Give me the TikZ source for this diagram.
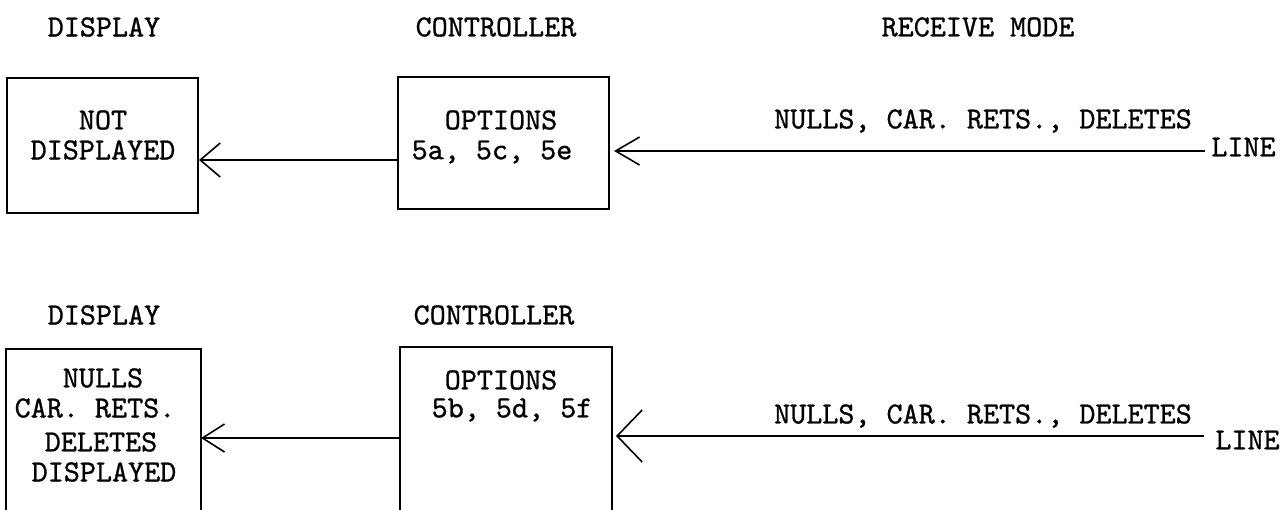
\documentclass[tikz,border=0pt]{standalone}
\usepackage{fontspec}
\newfontfamily\tw{lmmono10-regular.otf}[RawFeature={embolden=0.9}]
\usetikzlibrary{arrows.meta}
\begin{document}
\begin{tikzpicture}[x=0.5pt,y=-0.5pt,
  txt/.style={font=\tw\fontsize{15.3}{18}\selectfont, inner sep=0pt, anchor=center},
  boxshape/.style={rectangle, inner sep=0pt, line width=1pt},
  conn/.style={line width=0.8pt},
]
\useasboundingbox (0,0) rectangle (1283,509);

% ---------------- top row ----------------
\node[txt] (t1) at (104,27) {DISPLAY};
\node[txt] (t2) at (496,27) {CONTROLLER};
\node[txt] (t3) at (978,27) {RECEIVE MODE};

\node[boxshape, draw, minimum width=95.5pt, minimum height=67.5pt] (d1) at (102.5,145.5) {};
\node[txt] (d1a) at (103,120) {NOT};
\node[txt] (d1b) at (103,150) {DISPLAYED};

\node[boxshape, draw, minimum width=105.5pt, minimum height=66pt] (c1) at (503.5,143) {};
\node[txt] (c1a) at (501,120) {OPTIONS};
\node[txt] (c1b) at (492,152) {5a, 5c, 5e};

\coordinate (y1) at (0,160);
\draw[conn, -{Straight Barb[length=10pt,width=17pt]}] (c1.west |- y1) -- (d1.east |- y1);

\node[txt] (n1) at (983,121) {NULLS, CAR. RETS., DELETES};
\node[txt, anchor=west] (line1) at (1211,147) {LINE};
\coordinate (l1) at (1205,151);
\draw[conn, shorten >=2pt, -{Straight Barb[length=12pt,width=14pt]}] (l1) -- (l1 -| c1.east);

% ---------------- bottom row ----------------
\node[txt] (b1) at (104,315) {DISPLAY};
\node[txt] (b2) at (494,315) {CONTROLLER};

\node[boxshape, minimum width=96.5pt, minimum height=82.5pt] (d2) at (103.5,432.5) {};
\draw[line width=1pt] (d2.south west) -- (d2.north west) -- (d2.north east) -- (d2.south east);
\node[txt] (d2a) at (103,378) {NULLS};
\node[txt] (d2b) at (95,408) {CAR. RETS.};
\node[txt] (d2c) at (101,442) {DELETES};
\node[txt] (d2d) at (104,472) {DISPLAYED};

\node[boxshape, minimum width=105pt, minimum height=83.5pt] (c2) at (506,431.5) {};
\draw[line width=1pt] (c2.south west) -- (c2.north west) -- (c2.north east) -- (c2.south east);
\node[txt] (c2a) at (501,380) {OPTIONS};
\node[txt] (c2b) at (512,410) {5b, 5d, 5f};

\coordinate (y2) at (0,438);
\draw[conn, -{Straight Barb[length=11pt,width=14pt]}] (c2.west |- y2) -- (d2.east |- y2);

\node[txt] (n2) at (983,416) {NULLS, CAR. RETS., DELETES};
\node[txt, anchor=west] (line2) at (1215,440) {LINE};
\coordinate (l2) at (1204,436);
\draw[conn, shorten >=2pt, -{Straight Barb[length=12.5pt,width=26pt]}] (l2) -- (l2 -| c2.east);
\end{tikzpicture}
\end{document}
